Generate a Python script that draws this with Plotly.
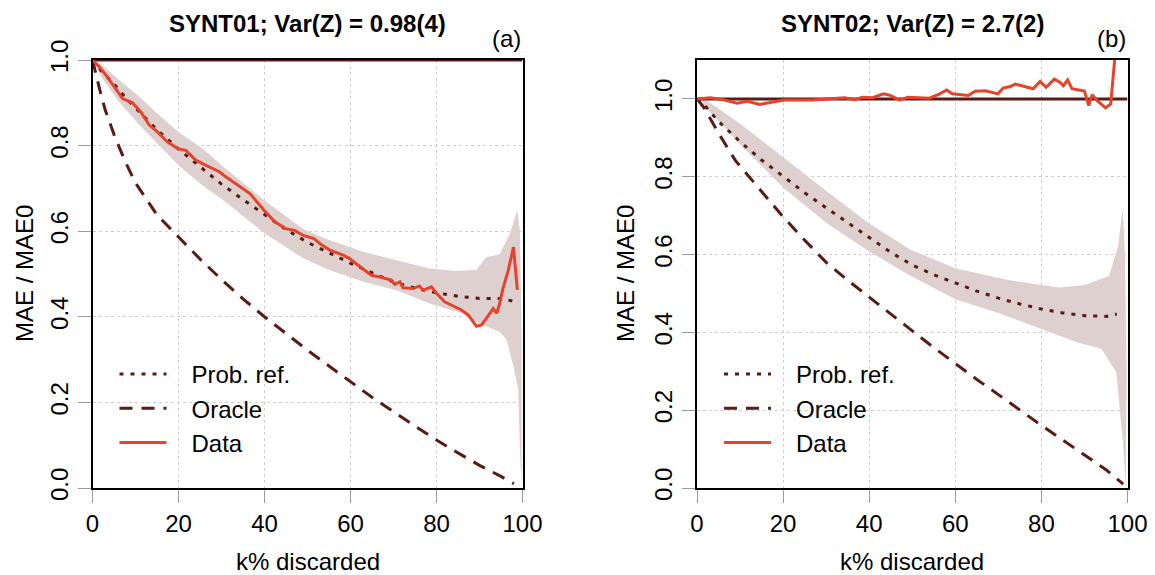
import plotly.graph_objects as go

# ---------------- data ----------------
REF_LEVEL = 1.0
K_LINE = [0, 100]

# Panel (a) SYNT01
L_K_REF = [0, 2, 5, 7.5, 10, 15, 20, 25, 30, 35, 40, 45, 50, 55, 60, 65, 70, 75, 80, 85, 90, 95, 98]
L_PROBREF = [1.0, 0.975, 0.944, 0.914, 0.888, 0.837, 0.792, 0.751, 0.710, 0.674, 0.638, 0.604, 0.574,
             0.549, 0.525, 0.503, 0.481, 0.467, 0.456, 0.448, 0.443, 0.443, 0.436]

L_K_ORACLE = [0, 1, 2, 3, 5, 7.5, 10, 15, 20, 25, 30, 35, 40, 45, 50, 55, 60, 65, 70, 75, 80, 85, 90, 95, 98]
L_ORACLE = [1.0, 0.955, 0.918, 0.882, 0.826, 0.765, 0.713, 0.638, 0.587, 0.535, 0.487, 0.442, 0.400,
            0.360, 0.322, 0.285, 0.248, 0.212, 0.178, 0.145, 0.112, 0.082, 0.053, 0.027, 0.010]

L_K_BAND_UP = [0, 2.3, 6.2, 10.9, 15.5, 20, 25.6, 31, 40, 49, 55.2, 63, 70.7, 78.4, 84.7, 89.3, 91.6,
               94.7, 97.1, 98.8, 99.4, 99.8]
L_BAND_UP = [1.0, 0.988, 0.953, 0.914, 0.871, 0.832, 0.793, 0.746, 0.672, 0.605, 0.579, 0.552, 0.532,
             0.513, 0.507, 0.510, 0.539, 0.546, 0.595, 0.649, 0.600, 0.350]
L_K_BAND_LO = [0, 2.3, 6.2, 10.9, 15.5, 20, 25.6, 31, 40, 49, 55.2, 63, 70.7, 78.4, 86.2, 90, 94.7,
               96.3, 97.9, 99.0, 99.4, 99.8]
L_BAND_LO = [1.0, 0.957, 0.902, 0.848, 0.800, 0.754, 0.707, 0.668, 0.595, 0.537, 0.509, 0.482, 0.462,
             0.431, 0.408, 0.384, 0.365, 0.346, 0.284, 0.230, 0.090, 0.0]

L_K_DATA = [0, 1.5, 3.1, 5.4, 7, 9.3, 11.2, 13.2, 15.1, 17.4, 19.8, 21.7, 24, 26.4, 29.5, 31, 33, 36.6,
            39.9, 42.4, 44.9, 47, 49, 51.5, 53, 55.2, 58.3, 59.8, 62.2, 64.9, 66.8, 69.5, 70.3, 71.5,
            72.2, 74.6, 76, 76.9, 78.8, 80, 81.9, 84.3, 85.8, 87.4, 89.3, 90.5, 93.2, 94, 94.7, 95.4,
            96.7, 97.9, 98.8]
L_DATA = [1.0, 0.985, 0.965, 0.934, 0.910, 0.900, 0.879, 0.848, 0.832, 0.809, 0.793, 0.789, 0.766,
          0.754, 0.739, 0.727, 0.713, 0.688, 0.649, 0.622, 0.606, 0.602, 0.590, 0.583, 0.570, 0.556,
          0.544, 0.536, 0.517, 0.497, 0.493, 0.486, 0.476, 0.482, 0.468, 0.466, 0.472, 0.462, 0.470,
          0.455, 0.435, 0.423, 0.416, 0.404, 0.378, 0.381, 0.419, 0.408, 0.431, 0.464, 0.509, 0.563,
          0.463]

# Panel (b) SYNT02
R_K_REF = [0, 1.5, 5, 10, 15, 20, 25, 30, 35, 40, 45, 50, 55, 60, 65, 70, 75, 80, 85, 90, 95, 97.5]
R_PROBREF = [1.0, 0.987, 0.942, 0.890, 0.843, 0.800, 0.759, 0.720, 0.683, 0.644, 0.606, 0.573, 0.548,
             0.527, 0.506, 0.488, 0.473, 0.460, 0.450, 0.443, 0.441, 0.447]

R_K_ORACLE = [0, 1.5, 5, 8.9, 15, 20, 25, 30, 35, 40, 45, 50, 55, 60, 65, 70, 75, 80, 85, 90, 95, 99]
R_ORACLE = [1.0, 0.979, 0.912, 0.842, 0.762, 0.697, 0.637, 0.580, 0.534, 0.490, 0.447, 0.404, 0.361,
            0.319, 0.279, 0.240, 0.200, 0.161, 0.123, 0.085, 0.047, 0.010]

R_K_BAND_UP = [0, 2.3, 10.5, 20, 30.2, 40, 49.7, 60, 72, 80, 84.3, 90, 95.7, 97.8, 98.9, 99.4, 99.8]
R_BAND_UP = [1.0, 0.996, 0.932, 0.850, 0.762, 0.680, 0.612, 0.565, 0.535, 0.522, 0.515, 0.522, 0.545,
             0.620, 0.720, 0.600, 0.300]
R_K_BAND_LO = [0, 2.3, 10.5, 20, 30.2, 40, 49.7, 60, 70, 80, 88.4, 94, 97.4, 99, 99.6]
R_BAND_LO = [1.0, 0.975, 0.878, 0.772, 0.680, 0.608, 0.545, 0.485, 0.450, 0.409, 0.374, 0.357, 0.297,
             0.110, 0.0]

R_K_DATA = [0, 3.1, 6.4, 9.3, 11.7, 14.6, 17, 20.3, 23.6, 26.9, 30.2, 34.3, 36.7, 38.4, 40.8, 43.3,
            44.9, 47, 49, 51.5, 52.3, 54, 56.4, 58, 59.3, 61.3, 63, 64.6, 67, 69.9, 71.1, 72.8, 74,
            76.1, 78.1, 79.7, 81.1, 83, 84.3, 85.1, 86.1, 87.1, 88.4, 90, 91, 91.8, 92.9, 94.9, 96.1,
            97, 97.8]
R_DATA = [1.0, 1.003, 0.997, 0.989, 0.994, 0.986, 0.991, 0.997, 0.997, 0.997, 1.0, 1.003, 0.998, 1.004,
          1.003, 1.013, 1.009, 0.997, 1.004, 1.003, 1.004, 1.002, 1.013, 1.023, 1.013, 1.011, 1.009,
          1.020, 1.021, 1.013, 1.028, 1.032, 1.038, 1.032, 1.026, 1.045, 1.030, 1.051, 1.043, 1.034,
          1.049, 1.026, 1.023, 1.020, 0.983, 1.011, 0.996, 0.977, 0.987, 1.098, 1.250]

TITLES = ["SYNT01; Var(Z) = 0.98(4)", "SYNT02; Var(Z) = 2.7(2)"]
PANEL_TAGS = ["(a)", "(b)"]
LEGEND_NAMES = ["Prob. ref.", "Oracle", "Data"]
X_TITLE = "k% discarded"
Y_TITLE = "MAE / MAE0"
X_TICKS = [0, 20, 40, 60, 80, 100]
Y_TICKS = [0.0, 0.2, 0.4, 0.6, 0.8, 1.0]
Y_RANGES = [[0, 1.0], [0, 1.1]]

# ---------------- styles / layout ----------------
DARK = "#5a1a15"
RED = "#e5432c"
BAND = "#ddd0cf"
FONT = "Liberation Sans, Arial, Helvetica, sans-serif"
FS = 24

OFF = 8                      # page body margin of the browser
W, H = 1155 - OFF, 575 - OFF


def px(xs):                  # screenshot x pixel -> paper fraction
    return (xs - OFF) / W


def py(ys):                  # screenshot y pixel -> paper fraction
    return 1 - (ys - OFF) / H


X_DOMAINS = [[px(92.5), px(522.5)], [px(697), px(1127.5)]]
Y_DOMAIN = [py(488), py(60)]
YTITLE_X = [24, 625]

panels = [
    dict(kref=L_K_REF, ref=L_PROBREF, kor=L_K_ORACLE, orc=L_ORACLE,
         kup=L_K_BAND_UP, up=L_BAND_UP, klo=L_K_BAND_LO, lo=L_BAND_LO,
         kd=L_K_DATA, d=L_DATA),
    dict(kref=R_K_REF, ref=R_PROBREF, kor=R_K_ORACLE, orc=R_ORACLE,
         kup=R_K_BAND_UP, up=R_BAND_UP, klo=R_K_BAND_LO, lo=R_BAND_LO,
         kd=R_K_DATA, d=R_DATA),
]

PAD = "\u00a0\u00a0\u00a0"

fig = go.Figure()
for i, p in enumerate(panels):
    xa = "x" if i == 0 else "x2"
    ya = "y" if i == 0 else "y2"
    lg = "legend" if i == 0 else "legend2"
    fig.add_trace(go.Scatter(
        x=p["kup"] + p["klo"][::-1], y=p["up"] + p["lo"][::-1],
        fill="toself", fillcolor=BAND, line=dict(width=0), mode="lines",
        showlegend=False, hoverinfo="skip", xaxis=xa, yaxis=ya))
    fig.add_trace(go.Scatter(
        x=K_LINE, y=[REF_LEVEL, REF_LEVEL], mode="lines",
        line=dict(color=DARK, width=3), showlegend=False, xaxis=xa, yaxis=ya))
    fig.add_trace(go.Scatter(
        x=p["kref"], y=p["ref"], mode="lines", name=PAD + LEGEND_NAMES[0],
        line=dict(color=DARK, width=3, dash="4px,7px"), legend=lg, xaxis=xa, yaxis=ya))
    fig.add_trace(go.Scatter(
        x=p["kor"], y=p["orc"], mode="lines", name=PAD + LEGEND_NAMES[1],
        line=dict(color=DARK, width=3, dash="13px,9px"), legend=lg, xaxis=xa, yaxis=ya))
    fig.add_trace(go.Scatter(
        x=p["kd"], y=p["d"], mode="lines", name=PAD + LEGEND_NAMES[2],
        line=dict(color=RED, width=3), legend=lg, xaxis=xa, yaxis=ya))

axis_common = dict(
    showline=True, mirror=True, linecolor="black", linewidth=2,
    ticks="outside", ticklen=13, tickwidth=1, tickcolor="#9a9a9a",
    showgrid=True, gridcolor="#cfcfcf", griddash="dot", gridwidth=1,
    zeroline=False, automargin=False,
    tickfont=dict(family=FONT, size=FS, color="black"),
)

layout = dict(
    width=W, height=H, margin=dict(l=0, r=0, t=0, b=0, autoexpand=False),
    paper_bgcolor="white", plot_bgcolor="white",
    font=dict(family=FONT, size=FS, color="black"),
    showlegend=True,
)
for i in range(2):
    sfx = "" if i == 0 else "2"
    layout["xaxis" + sfx] = dict(axis_common, domain=X_DOMAINS[i], range=[0, 100],
                                tickvals=X_TICKS, anchor="y" + sfx)
    layout["yaxis" + sfx] = dict(axis_common, domain=Y_DOMAIN, range=Y_RANGES[i],
                                tickvals=Y_TICKS, tickformat=".1f", tickangle=-90,
                                anchor="x" + sfx)
    left_px = 92.5 if i == 0 else 697
    layout["legend" + sfx] = dict(
        x=px(left_px + 22), y=py(352), xanchor="left", yanchor="top",
        bgcolor="rgba(0,0,0,0)", font=dict(family=FONT, size=FS, color="black"),
        itemwidth=47, tracegroupgap=0)

fig.update_layout(**layout)

ann = []
for i in range(2):
    xc = (X_DOMAINS[i][0] + X_DOMAINS[i][1]) / 2
    ann.append(dict(text="<b>" + TITLES[i] + "</b>", x=xc, y=1.0, xref="paper", yref="paper",
                    showarrow=False, xanchor="center", yanchor="top",
                    font=dict(family=FONT, size=FS, color="black")))
    ann.append(dict(text=PANEL_TAGS[i], x=X_DOMAINS[i][1], y=py(38), xref="paper", yref="paper",
                    showarrow=False, xanchor="right", yanchor="middle",
                    font=dict(family=FONT, size=FS, color="black")))
    ann.append(dict(text=X_TITLE, x=xc, y=py(561), xref="paper", yref="paper",
                    showarrow=False, xanchor="center", yanchor="middle",
                    font=dict(family=FONT, size=FS, color="black")))
    ann.append(dict(text=Y_TITLE, x=px(YTITLE_X[i]), y=(Y_DOMAIN[0] + Y_DOMAIN[1]) / 2,
                    xref="paper", yref="paper", textangle=-90,
                    showarrow=False, xanchor="center", yanchor="middle",
                    font=dict(family=FONT, size=FS, color="black")))
fig.update_layout(annotations=ann)

fig.write_html("out.html")
